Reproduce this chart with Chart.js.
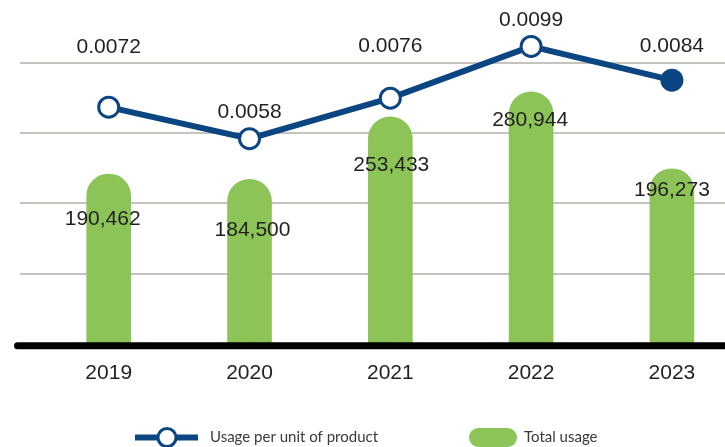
<!DOCTYPE html>
<html><head><meta charset="utf-8">
<script src="https://cdn.jsdelivr.net/npm/chart.js@4.4.1/dist/chart.umd.min.js"></script>
<style>html,body{margin:0;padding:0;background:#fff}#wrap{width:725px;height:447px}</style>
</head><body><div id="wrap"><canvas id="c" width="725" height="447"></canvas></div>
<script>
const years = ['2019', '2020', '2021', '2022', '2023'];
const totalUsage = [190462, 184500, 253433, 280944, 196273];
const usagePerUnit = [0.0072, 0.0058, 0.0076, 0.0099, 0.0084];
const seriesNames = ['Usage per unit of product', 'Total usage'];
const gridTicks = [1, 2, 3, 4];
// label placement (layout only)
const lineLabelDy = [-60, -26, -52, -26, -34];
const barLabelDy = [45, 51, 48, 28, 21];
const barLabelDx = [-6, 3, 1, -1, 0];

const NAVY = '#0b4683';
const GREEN = '#8cc457';
const TEXT = '#231f20';
const NUM_FONT = '21px "Liberation Sans", Arial, sans-serif';

const fmtInt = v => v.toLocaleString('en-US');
const fmtDec = v => v.toFixed(4);

const extras = {
  id: 'extras',
  afterDatasetsDraw(chart) {
    const ctx = chart.ctx;
    const ca = chart.chartArea;
    const ys = chart.scales.y;
    const by = ys.getPixelForValue(0) - 1;
    ctx.save();
    ctx.strokeStyle = '#000';
    ctx.lineWidth = 7;
    ctx.lineCap = 'round';
    ctx.beginPath();
    ctx.moveTo(ca.left - 2.5, by);
    ctx.lineTo(ca.right + 10, by);
    ctx.stroke();
    ctx.restore();

    ctx.save();
    ctx.font = NUM_FONT;
    ctx.fillStyle = TEXT;
    ctx.textAlign = 'center';
    ctx.textBaseline = 'middle';
    const mBar = chart.getDatasetMeta(1);
    mBar.data.forEach((el, i) => {
      ctx.fillText(fmtInt(totalUsage[i]), el.x + barLabelDx[i], el.y + barLabelDy[i]);
    });
    const mLine = chart.getDatasetMeta(0);
    mLine.data.forEach((el, i) => {
      ctx.fillText(fmtDec(usagePerUnit[i]), el.x, el.y + lineLabelDy[i]);
    });
    ctx.restore();
  },
  afterDraw(chart) {
    const ctx = chart.ctx;
    const ds = chart.data.datasets;
    const ly = 437.5;
    ctx.save();
    ctx.strokeStyle = ds[0].borderColor;
    ctx.lineWidth = 6;
    ctx.beginPath();
    ctx.moveTo(135, ly);
    ctx.lineTo(198, ly);
    ctx.stroke();
    ctx.beginPath();
    ctx.arc(167, ly, 9, 0, Math.PI * 2);
    ctx.fillStyle = '#fff';
    ctx.fill();
    ctx.lineWidth = 3;
    ctx.stroke();
    ctx.fillStyle = ds[1].backgroundColor;
    ctx.beginPath();
    ctx.roundRect(469, 428, 48, 19, 9.5);
    ctx.fill();
    ctx.font = '15px Lato, "Open Sans", sans-serif';
    ctx.fillStyle = '#3a3a3a';
    ctx.textAlign = 'left';
    ctx.textBaseline = 'middle';
    ctx.fillText(ds[0].label, 210, ly);
    ctx.fillText(ds[1].label, 524, ly);
    ctx.restore();
  }
};

new Chart(document.getElementById('c'), {
  data: {
    datasets: [
      {
        type: 'line',
        label: seriesNames[0],
        data: usagePerUnit.map((v, i) => ({ x: i, y: v })),
        yAxisID: 'y2',
        xAxisID: 'x',
        borderColor: NAVY,
        borderWidth: 6,
        tension: 0,
        pointRadius: 10,
        pointBorderWidth: 3,
        pointBorderColor: NAVY,
        pointBackgroundColor: usagePerUnit.map((v, i) => i === usagePerUnit.length - 1 ? NAVY : '#fff'),
        order: 0,
        clip: false
      },
      {
        type: 'bar',
        label: seriesNames[1],
        data: totalUsage.map((v, i) => ({ x: i, y: v })),
        yAxisID: 'y',
        xAxisID: 'x',
        backgroundColor: GREEN,
        barThickness: 44,
        borderRadius: { topLeft: 22, topRight: 22, bottomLeft: 0, bottomRight: 0 },
        borderSkipped: 'bottom',
        order: 1
      }
    ]
  },
  options: {
    responsive: false,
    animation: false,
    devicePixelRatio: 1,
    layout: { autoPadding: false, padding: { left: 20, right: 0, top: 20, bottom: 47 } },
    plugins: { legend: { display: false }, tooltip: { enabled: false } },
    scales: {
      x: {
        type: 'linear',
        position: 'bottom',
        offset: false,
        bounds: 'data',
        min: -0.630,
        max: 4.377,
        afterBuildTicks: s => { s.ticks = years.map((_, i) => ({ value: i })); },
        ticks: {
          callback: v => years[v],
          font: { family: '"Liberation Sans", Arial, sans-serif', size: 21 },
          color: TEXT,
          padding: 14,
          autoSkip: false,
          maxRotation: 0
        },
        grid: { display: false, drawTicks: false, offset: false },
        border: { display: false }
      },
      y: { type: 'linear', position: 'left', display: false, bounds: 'data', min: 0, max: 360230 },
      y2: { type: 'linear', position: 'right', display: false, bounds: 'data', min: -0.003454, max: 0.011076 },
      g: {
        type: 'linear',
        axis: 'y',
        position: 'right',
        display: true,
        bounds: 'data',
        min: -0.0429,
        max: 4.614,
        afterBuildTicks: s => { s.ticks = gridTicks.map(v => ({ value: v })); },
        ticks: { display: false },
        grid: { color: '#c6c2bd', lineWidth: 2, drawTicks: false },
        border: { display: false }
      }
    }
  },
  plugins: [extras]
});
</script>
</body></html>
